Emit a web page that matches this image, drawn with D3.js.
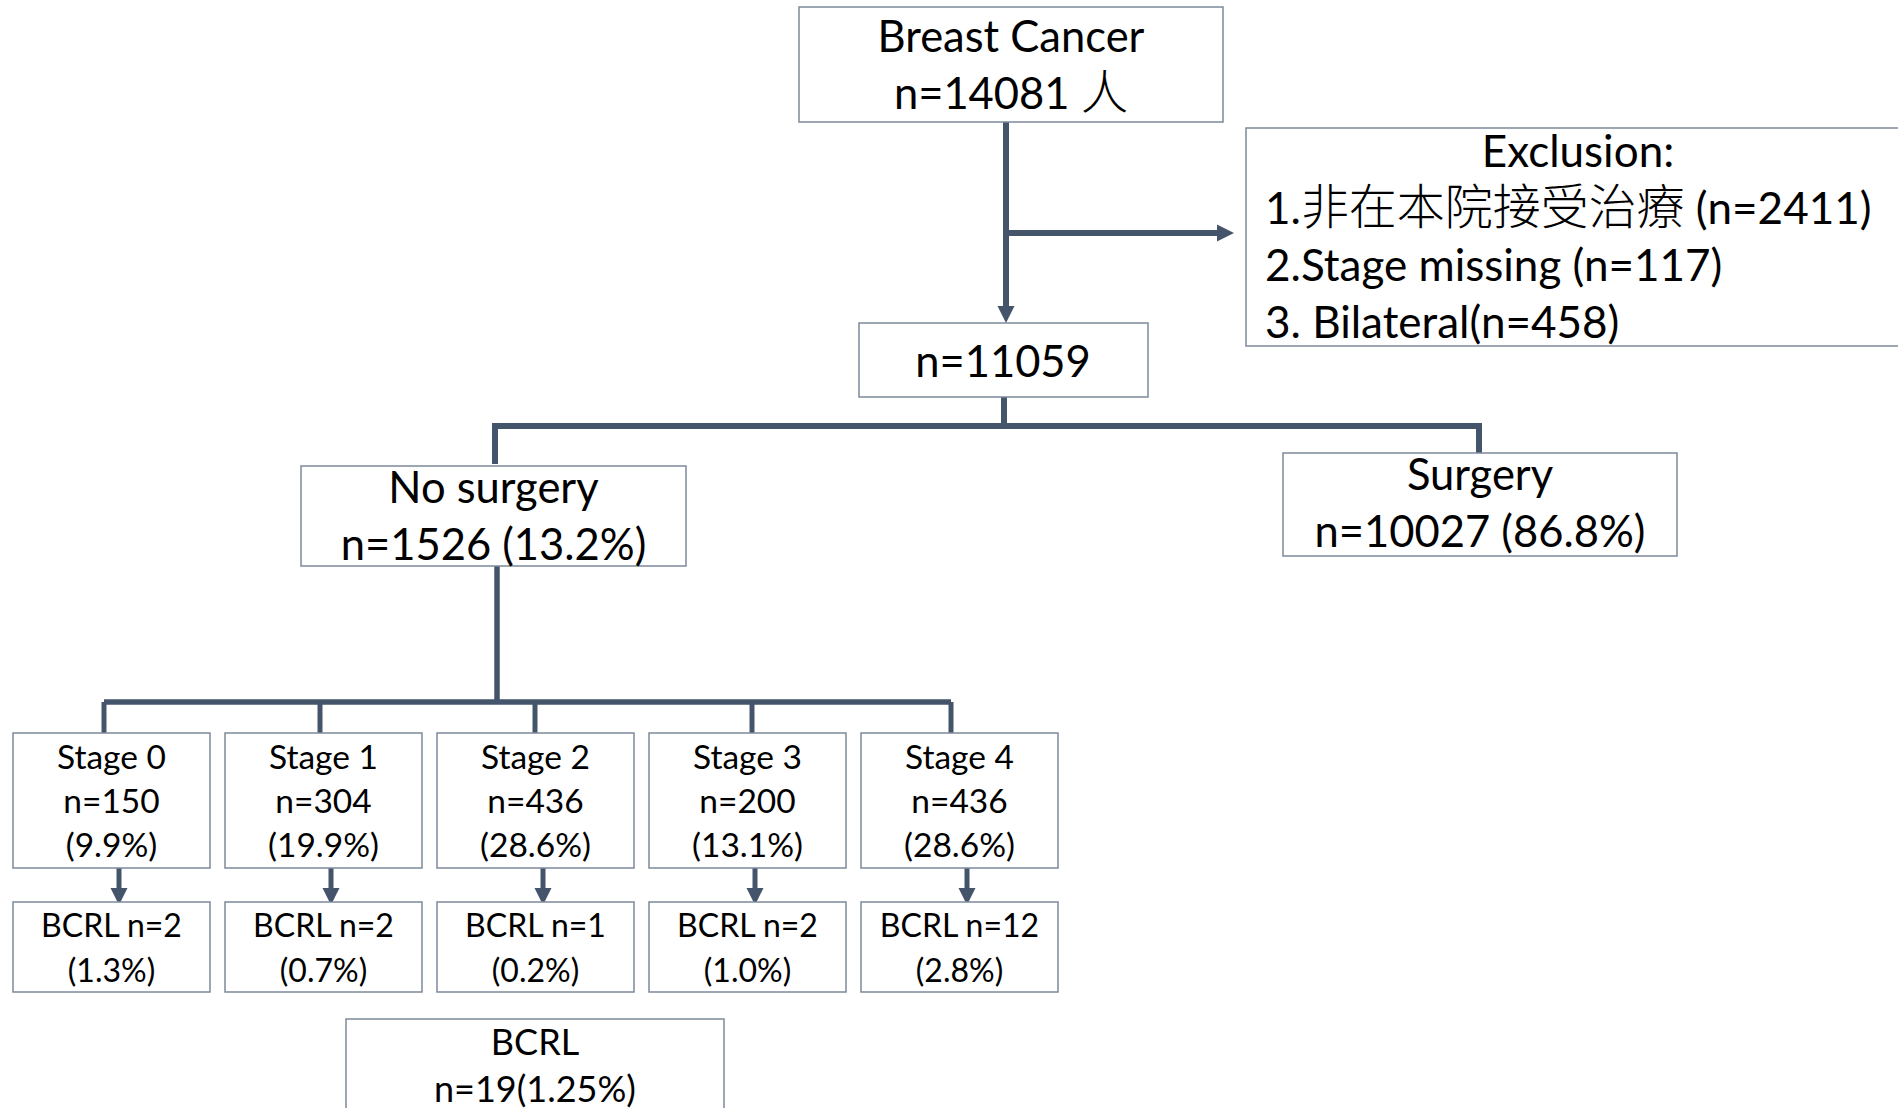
<!DOCTYPE html>
<html>
<head>
<meta charset="utf-8">
<script src="https://cdn.jsdelivr.net/npm/d3@7"></script>
<style>
  html, body { margin: 0; padding: 0; background: #fff; overflow: hidden; }
  svg { display: block; }
</style>
</head>
<body>
<div id="chart"></div>
<script>
// data
const totalN = 14081;
const totalUnit = "人";
const exclusionTitle = "Exclusion:";
const exclusionReasons = ["1.非在本院接受治療", "2.Stage missing", "3. Bilateral"];
const exclusionN = [2411, 117, 458];
const eligibleN = 11059;
const treatGroups = ["No surgery", "Surgery"];
const treatN = [1526, 10027];
const treatPct = ["13.2%", "86.8%"];
const stages = ["Stage 0", "Stage 1", "Stage 2", "Stage 3", "Stage 4"];
const stageN = [150, 304, 436, 200, 436];
const stagePct = ["9.9%", "19.9%", "28.6%", "13.1%", "28.6%"];
const bcrlN = [2, 2, 1, 2, 12];
const bcrlPct = ["1.3%", "0.7%", "0.2%", "1.0%", "2.8%"];
const bcrlTotalN = 19;
const bcrlTotalPct = "1.25%";

const width = 1898;
const height = 1108;
const lineColor = "#44546a";
const boxStroke = "#7d899b";
const latin = "Lato, 'Noto Sans', sans-serif";
const cjk = "'Noto Sans CJK TC', 'Noto Sans CJK SC', sans-serif";

const svg = d3.select("#chart").append("svg")
  .attr("width", width)
  .attr("height", height);

const gLines = svg.append("g");
const gBoxes = svg.append("g");

// stage columns
const x = d3.scaleBand()
  .domain(stages)
  .range([13, 1058])
  .paddingInner(0.0708)
  .paddingOuter(0);

const box = function(x0, y0, w, h) {
  gBoxes.append("rect")
    .attr("x", x0).attr("y", y0)
    .attr("width", w).attr("height", h)
    .attr("fill", "#fff")
    .attr("stroke", boxStroke)
    .attr("stroke-width", 1.5);
};

// text line, CJK runs get their own font
const label = function(str, tx, ty, size, anchor) {
  const t = svg.append("text")
    .attr("x", tx).attr("y", ty)
    .attr("text-anchor", anchor || "middle")
    .attr("font-family", latin)
    .attr("font-size", size)
    .attr("fill", "#000");
  const parts = str.split(/([\u3400-\u9fff]+)/).filter(s => s.length);
  parts.forEach(p => {
    const isCjk = /[\u3400-\u9fff]/.test(p);
    t.append("tspan")
      .attr("font-family", isCjk ? cjk : latin)
      .attr("font-size", isCjk ? size * 1.09 : size)
      .attr("font-weight", isCjk ? 300 : 400)
      .text(p);
  });
  return t;
};

const seg = function(pts, w) {
  gLines.append("path")
    .attr("d", d3.line()(pts))
    .attr("fill", "none")
    .attr("stroke", lineColor)
    .attr("stroke-width", w || 6)
    .attr("stroke-linejoin", "miter");
};

// arrow: shaft plus triangle head pointing to (x2,y2)
const arrow = function(x1, y1, x2, y2, w) {
  const head = 17;
  const dx = x2 - x1, dy = y2 - y1;
  const len = Math.hypot(dx, dy);
  const ux = dx / len, uy = dy / len;
  const bx = x2 - ux * head, by = y2 - uy * head;
  seg([[x1, y1], [bx, by]], w);
  gLines.append("path")
    .attr("d", d3.line()([[x2, y2], [bx - uy * head / 2, by + ux * head / 2], [bx + uy * head / 2, by - ux * head / 2]]) + "Z")
    .attr("fill", lineColor);
};

// connectors
arrow(1006, 121, 1006, 323);
arrow(1006, 233, 1234, 233);
seg([[1004, 397], [1004, 426]]);
seg([[495, 464], [495, 426], [1479, 426], [1479, 462]]);
seg([[497, 566], [497, 702]], 5.5);
seg([[104, 702], [951, 702]], 5.5);
const stageDrop = [104, 320, 535, 752, 951];
stages.forEach((s, i) => {
  seg([[stageDrop[i], 702], [stageDrop[i], 733]], 5);
  arrow(x(s) + 106, 868, x(s) + 106, 905, 5);
});

// top boxes
box(799, 7, 424, 115);
label("Breast Cancer", 1011, 52, 43.5);
label("n=" + totalN + " " + totalUnit, 1011, 109, 43.5);

box(1246, 128, 670, 218);
label(exclusionTitle, 1578, 167, 44);
exclusionReasons.forEach((r, i) => {
  const sep = r.startsWith("3.") ? "" : " ";
  label(r + sep + "(n=" + exclusionN[i] + ")", 1265, 224 + i * 57, 44, "start");
});

box(859, 323, 289, 74);
label("n=" + eligibleN, 1003, 377, 43.5);

// treatment split
const treatBox = [[301, 466, 385, 100], [1283, 453, 394, 103]];
treatGroups.forEach((g, i) => {
  const b = treatBox[i];
  box(b[0], b[1], b[2], b[3]);
  const cx = b[0] + b[2] / 2;
  label(g, cx, b[1] + 37, 43.5);
  label("n=" + treatN[i] + " (" + treatPct[i] + ")", cx, b[1] + 94, 43.5);
});

// stages
stages.forEach((s, i) => {
  const x0 = x(s), w = x.bandwidth(), cx = x0 + w / 2;
  box(x0, 733, w, 135);
  label(s, cx, 769, 33.5);
  label("n=" + stageN[i], cx, 813, 33.5);
  label("(" + stagePct[i] + ")", cx, 857, 33.5);

  box(x0, 902, w, 90);
  label("BCRL n=" + bcrlN[i], cx, 937, 32);
  label("(" + bcrlPct[i] + ")", cx, 982, 32);
});

// overall BCRL
box(346, 1019, 378, 110);
label("BCRL", 535, 1055, 36);
label("n=" + bcrlTotalN + "(" + bcrlTotalPct + ")", 535, 1102, 36);
</script>
</body>
</html>
